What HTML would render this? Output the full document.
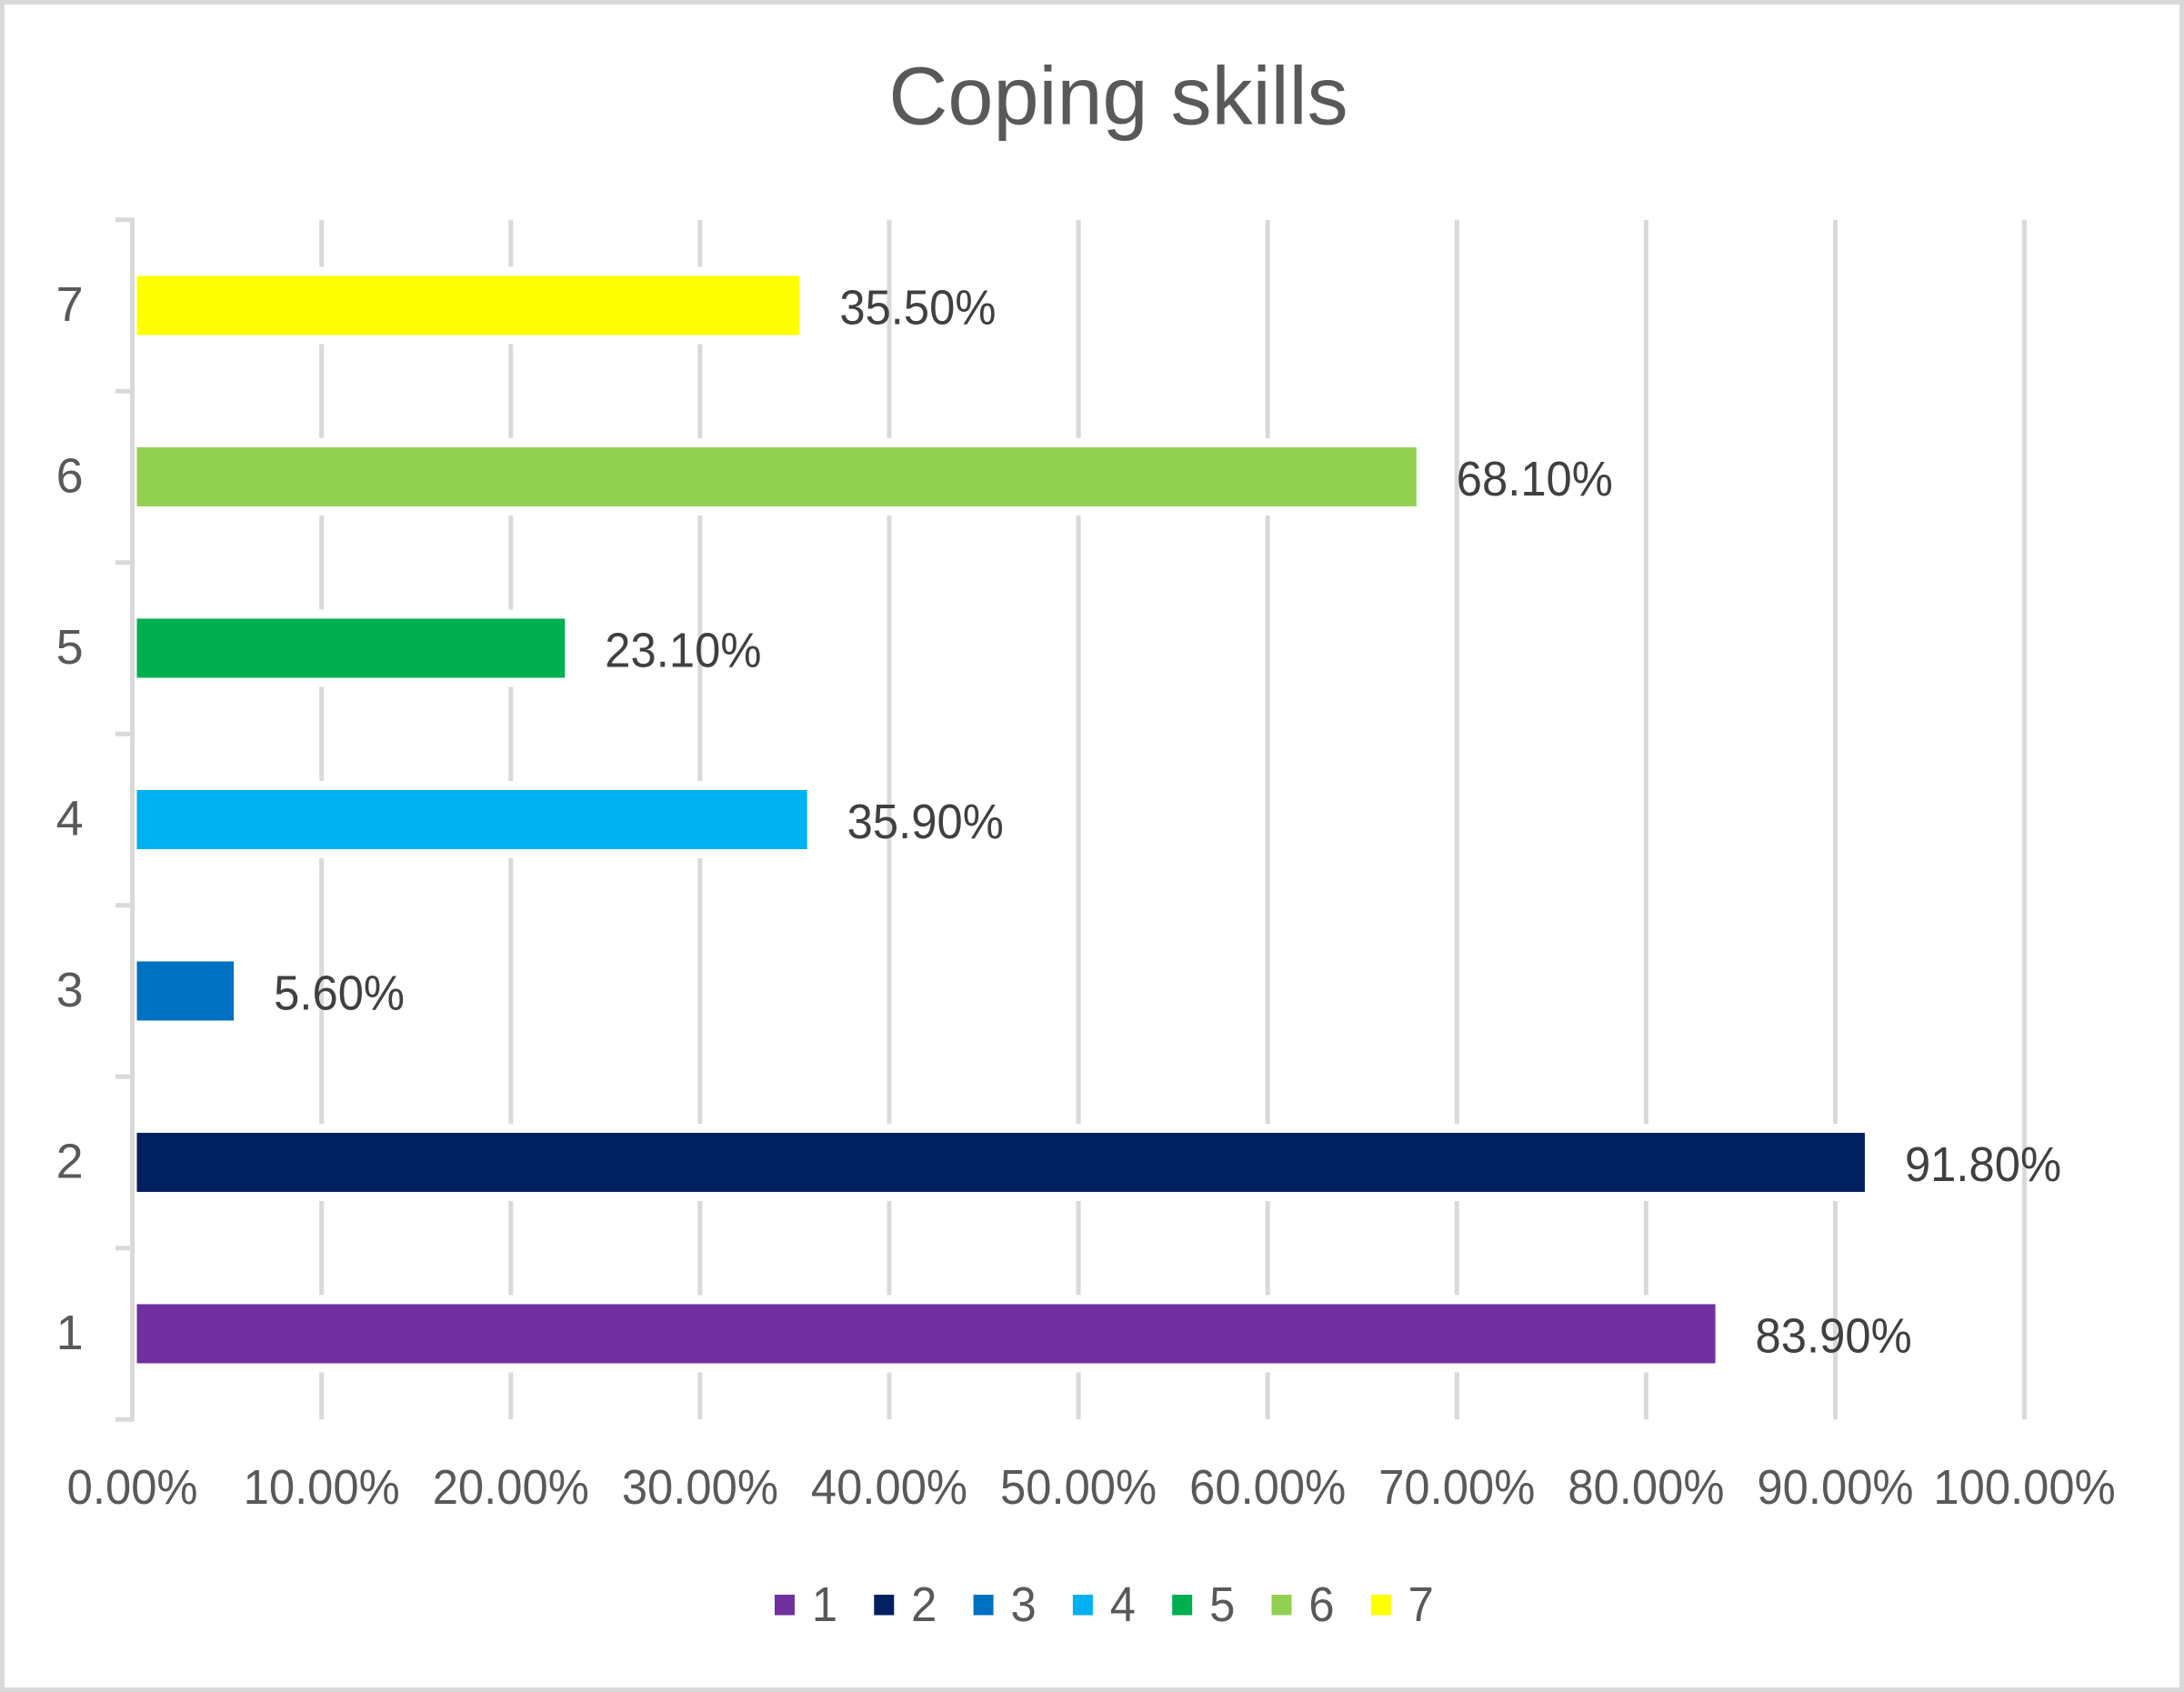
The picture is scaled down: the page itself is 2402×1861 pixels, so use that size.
<!DOCTYPE html>
<html lang="en">
<head>
<meta charset="utf-8">
<title>Coping skills</title>
<style>
html,body{margin:0;padding:0;background:#fff;}
svg{display:block;font-family:"Liberation Sans",sans-serif;}
.grid,.axis-line{stroke:#d9d9d9;stroke-width:5;fill:none;}
.tick-text{font-size:54px;fill:#595959;}
.value-text{font-size:54px;fill:#404040;}
.c1{fill:#7030a0;}.c2{fill:#002060;}.c3{fill:#0070c0;}.c4{fill:#00b0f0;}
.c5{fill:#00b050;}.c6{fill:#92d050;}.c7{fill:#ffff00;}
</style>
</head>
<body>
<svg id="chart" xmlns="http://www.w3.org/2000/svg" width="2402" height="1861" viewBox="0 0 2402 1861">
  <rect x="0" y="0" width="2402" height="1861" fill="#ffffff"/>
  <rect x="2.5" y="2.5" width="2397" height="1856" fill="none" stroke="#d9d9d9" stroke-width="5"/>
  <text x="1230" y="136.7" text-anchor="middle" font-size="90" fill="#595959">Coping skills</text>
  <g id="gridlines"></g>
  <g id="y-axis"></g>
  <g id="bars"></g>
  <g id="x-axis"></g>
  <g id="legend"></g>
</svg>
<script>
const categories = ['1', '2', '3', '4', '5', '6', '7'];
const values = [83.9, 91.8, 5.6, 35.9, 23.1, 68.1, 35.5];
const xTicks = [0, 10, 20, 30, 40, 50, 60, 70, 80, 90, 100];

const plotLeft = 145.6;
const plotWidth = 2081;
const plotTop = 241.7;
const plotBottom = 1561.2;
const barHeight = 65;
const barStart = 150.5;
const barEndInset = 5;
const condense = 0.94;

function xScale(v) { return plotLeft + (v / 100) * plotWidth; }
function bandCenter(i) {
  const step = (plotBottom - plotTop) / categories.length;
  return plotBottom - step * (i + 0.5);
}
function bandEdge(i) {
  const step = (plotBottom - plotTop) / categories.length;
  return plotBottom - step * i;
}
function pct(v) { return v.toFixed(2) + '%'; }
function make(tag, attrs, parent, text) {
  const el = document.createElementNS('http://www.w3.org/2000/svg', tag);
  for (const k in attrs) el.setAttribute(k, attrs[k]);
  if (text !== undefined) el.textContent = text;
  parent.appendChild(el);
  return el;
}
function fit(el) {
  el.setAttribute('textLength', el.getComputedTextLength() * condense);
  el.setAttribute('lengthAdjust', 'spacingAndGlyphs');
}

const gridGroup = document.getElementById('gridlines');
const xAxisGroup = document.getElementById('x-axis');
const yAxisGroup = document.getElementById('y-axis');
const barGroup = document.getElementById('bars');
const legendGroup = document.getElementById('legend');

xTicks.forEach(function (t) {
  if (t > 0) {
    const line = make('line', {class: 'grid', x1: xScale(t), x2: xScale(t), y1: plotTop, y2: plotBottom}, gridGroup);
    
    
  }
  const label = make('text', {class: 'tick-text', x: xScale(t), y: 1654, 'text-anchor': 'middle'}, xAxisGroup, pct(t));
  
  
  fit(label);
});

const axisLine = make('line', {class: 'axis-line', x1: plotLeft, x2: plotLeft, y1: plotTop - 2, y2: plotBottom + 2}, yAxisGroup);



for (let i = 0; i <= categories.length; i++) {
  const tick = make('line', {class: 'axis-line', x1: 127, x2: plotLeft, y1: bandEdge(i), y2: bandEdge(i)}, yAxisGroup);
  
  
}

categories.forEach(function (c, i) {
  const cy = bandCenter(i);
  const end = xScale(values[i]) - barEndInset;

  const halo = make('rect', {x: barStart, y: cy - barHeight / 2 - 10, width: end - barStart + 10, height: barHeight + 20, fill: '#ffffff'}, barGroup);
  
  

  const bar = make('rect', {class: 'c' + c, x: barStart, y: cy - barHeight / 2, width: end - barStart, height: barHeight}, barGroup);
  
  

  const val = make('text', {class: 'value-text', x: end + 44, y: cy + 20.5}, barGroup, pct(values[i]));
  
  
  fit(val);

  const yLabel = make('text', {class: 'tick-text', x: 76.7, y: cy + 17, 'text-anchor': 'middle'}, yAxisGroup, c);
  
  

  const lx = 852 + i * 109.3;
  const swatch = make('rect', {class: 'c' + c, x: lx, y: 1754, width: 22, height: 22.5}, legendGroup);
  
  

  const lText = make('text', {class: 'tick-text', x: lx + 55, y: 1783, 'text-anchor': 'middle'}, legendGroup, c);
  
  
  fit(lText);
});
</script>
</body>
</html>
